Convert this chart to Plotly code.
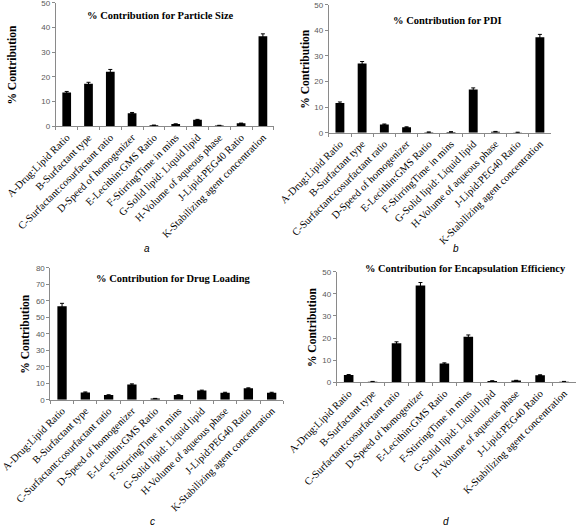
import plotly.graph_objects as go

categories = [
    "A-Drug:Lipid Ratio",
    "B-Surfactant type",
    "C-Surfactant:cosurfactant ratio",
    "D-Speed of homogenizer",
    "E-Lecithin:GMS Ratio",
    "F-StirringTime in mins",
    "G-Solid lipid: Liquid lipid",
    "H-Volume of aqueous phase",
    "J-Lipid:PEG40 Ratio",
    "K-Stabilizing agent concentration",
]

particle_size = [13.7, 17.2, 22.1, 5.3, 0.4, 0.9, 2.6, 0.3, 1.2, 36.4]
particle_size_err = [0.4, 0.6, 0.9, 0.3, 0.1, 0.1, 0.2, 0.1, 0.1, 1.0]

pdi = [11.6, 27.0, 3.2, 2.1, 0.2, 0.3, 16.9, 0.4, 0.1, 37.3]
pdi_err = [0.4, 0.8, 0.2, 0.2, 0.1, 0.1, 0.6, 0.1, 0.1, 1.1]

drug_loading = [56.7, 4.4, 2.8, 9.2, 0.7, 2.8, 5.5, 4.2, 6.9, 4.2]
drug_loading_err = [1.7, 0.3, 0.2, 0.4, 0.1, 0.2, 0.3, 0.3, 0.3, 0.3]

encapsulation = [3.3, 0.3, 17.6, 43.8, 8.5, 20.6, 0.6, 0.8, 3.2, 0.3]
encapsulation_err = [0.2, 0.1, 0.7, 1.3, 0.3, 0.8, 0.1, 0.1, 0.2, 0.1]

titles = [
    "% Contribution for Particle Size",
    "% Contribution for PDI",
    "% Contribution for Drug Loading",
    "% Contribution for Encapsulation Efficiency",
]
panel_letters = ["a", "b", "c", "d"]
y_max = [50, 50, 80, 50]

W, H = 580, 529

# plot-area boxes in pixels: (left, right, top, bottom)
boxes = [
    (55.8, 273.8, 2.7, 126.3),
    (328.8, 551.0, 4.7, 132.7),
    (50.4, 283.3, 267.7, 399.7),
    (336.7, 576.0, 271.7, 382.3),
]
title_pos = [(160, 15), (447, 20), (173, 278), (465, 268)]
title_size = [10.5, 10.5, 10.5, 10.4]
ytitle_x = [12, 305, 25, 312]
letter_pos = [(147, 248), (456, 248), (152, 521), (446, 521)]

series = [
    (particle_size, particle_size_err),
    (pdi, pdi_err),
    (drug_loading, drug_loading_err),
    (encapsulation, encapsulation_err),
]

serif = "Liberation Serif"
sans = "Liberation Sans"

fig = go.Figure()
annotations = []
layout_axes = {}

for i, ((vals, errs), box) in enumerate(zip(series, boxes)):
    n = "" if i == 0 else str(i + 1)
    xa, ya = "x" + n, "y" + n
    fig.add_trace(go.Bar(
        x=categories, y=vals, xaxis=xa, yaxis=ya,
        marker=dict(color="black", line=dict(width=0)),
        error_y=dict(type="data", array=errs, color="black", thickness=1, width=2),
        showlegend=False,
    ))
    l, r, t, b = box
    layout_axes["xaxis" + n] = dict(
        domain=[l / W, r / W], anchor=ya, type="category",
        range=[-0.5, 9.5], showgrid=False, showline=True,
        linecolor="#8a8a8a", linewidth=1, ticks="outside", tickson="boundaries",
        ticklen=3, tickcolor="#8a8a8a", tickangle=-45,
        tickfont=dict(family=serif, size=10.5, color="black"),
        fixedrange=True, automargin=False, ticklabeloverflow="allow",
    )
    layout_axes["yaxis" + n] = dict(
        domain=[1 - b / H, 1 - t / H], anchor=xa,
        range=[0, y_max[i]], dtick=10, showgrid=False, showline=True,
        linecolor="#8a8a8a", linewidth=1, ticks="outside", ticklen=3,
        tickcolor="#8a8a8a", tickfont=dict(family=sans, size=8, color="#595959"),
        zeroline=False, fixedrange=True, automargin=False,
        ticklabeloverflow="allow",
    )
    tx, ty = title_pos[i]
    annotations.append(dict(
        text="<b>" + titles[i] + "</b>", x=tx / W, y=1 - ty / H,
        xref="paper", yref="paper", showarrow=False,
        xanchor="center", yanchor="middle",
        font=dict(family=serif, size=title_size[i], color="black"),
    ))
    annotations.append(dict(
        text="<b>% Contribution</b>", x=ytitle_x[i] / W, y=1 - ((t + b) / 2) / H,
        xref="paper", yref="paper", showarrow=False, textangle=-90,
        xanchor="center", yanchor="middle",
        font=dict(family=serif, size=11.5, color="black"),
    ))
    lx, ly = letter_pos[i]
    annotations.append(dict(
        text="<i>" + panel_letters[i] + "</i>", x=lx / W, y=1 - ly / H,
        xref="paper", yref="paper", showarrow=False,
        xanchor="center", yanchor="middle",
        font=dict(family=sans, size=10, color="black"),
    ))

fig.update_layout(
    width=W, height=H,
    margin=dict(l=0, r=0, t=0, b=0),
    paper_bgcolor="white", plot_bgcolor="white",
    bargap=0.6,
    hovermode=False,
    annotations=annotations,
    **layout_axes,
)

fig.write_html(
    "out.html",
    config={"displayModeBar": False, "staticPlot": True},
    post_script="document.body.style.margin='0';document.body.style.overflow='hidden';",
)
